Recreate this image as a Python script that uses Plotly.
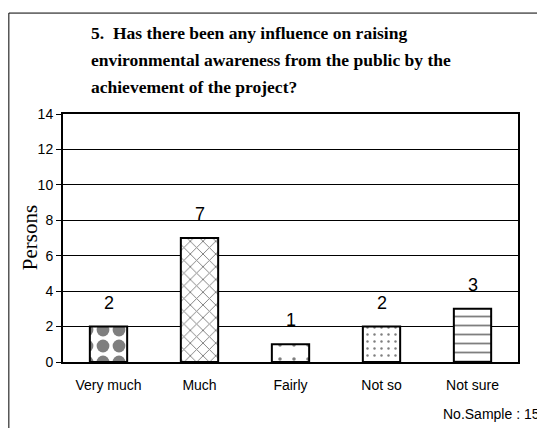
import plotly.graph_objects as go

categories = ["Very much", "Much", "Fairly", "Not so", "Not sure"]
persons = [2, 7, 1, 2, 3]
y_ticks = [0, 2, 4, 6, 8, 10, 12, 14]
title_lines = ["5.  Has there been any influence on raising",
               "environmental awareness from the public by the",
               "achievement of the project?"]
y_title = "Persons"
sample_note = "No.Sample : 15"

# one fill pattern per bar, roughly like the original hatching
shapes_ = [".", "x", ".", ".", "-"]
sizes_ = [16, 9, 14, 7, 9]
solid_ = [0.5, 0.2, 0.05, 0.1, 0.2]

fig = go.Figure()
fig.add_trace(go.Bar(
    x=categories, y=persons, width=0.41,
    marker=dict(color="white", line=dict(color="black", width=2),
                pattern=dict(shape=shapes_, size=sizes_, solidity=solid_,
                             fgcolor="black", bgcolor="white", fillmode="overlay")),
    showlegend=False))

for c, v in zip(categories, persons):
    fig.add_annotation(x=c, y=v, text=str(v), showarrow=False, yanchor="bottom", yshift=12,
                       font=dict(family="Liberation Sans, Arial", size=18, color="black"))

for i, line in enumerate(title_lines):
    fig.add_annotation(xref="paper", yref="paper", x=0.057, y=1.375 - i * 0.109, text="<b>" + line + "</b>",
                       showarrow=False, xanchor="left", yanchor="top",
                       font=dict(family="Liberation Serif, Times New Roman", size=17.5, color="black"))

# y axis title as an annotation so it sits where the original one is
fig.add_annotation(xref="paper", yref="paper", x=-0.072, y=0.5, text=y_title, showarrow=False,
                   textangle=-90, xanchor="center", yanchor="middle",
                   font=dict(family="Liberation Serif, Times New Roman", size=21, color="black"))

fig.add_annotation(xref="paper", yref="paper", x=1.052, y=-0.17, text=sample_note, showarrow=False,
                   xanchor="right", yanchor="top",
                   font=dict(family="Liberation Sans, Arial", size=14, color="black"))

# outer frame around the whole chart
fig.add_shape(type="rect", xref="paper", yref="paper", x0=-0.119, x1=1.057, y0=-0.4, y1=1.407,
              line=dict(color="black", width=1), layer="below")

fig.update_xaxes(showline=True, linecolor="black", linewidth=2, mirror=True, automargin=False,
                 ticks="outside", ticklen=9, tickcolor="rgba(0,0,0,0)",
                 tickfont=dict(family="Liberation Sans, Arial", size=14, color="black"))
fig.update_yaxes(range=[0, 14], tickvals=y_ticks, showline=True, linecolor="black", linewidth=2, mirror=True,
                 showgrid=True, gridcolor="black", gridwidth=1, zeroline=False, automargin=False,
                 ticks="outside", ticklen=5, tickcolor="black",
                 tickfont=dict(family="Liberation Sans, Arial", size=14, color="black"))

# page body has an 8px margin, so the figure is a bit smaller than the window
fig.update_layout(
    width=537, height=420,
    margin=dict(l=55, r=27, t=106, b=66),
    plot_bgcolor="white", paper_bgcolor="white"
)

fig.write_html("out.html")
